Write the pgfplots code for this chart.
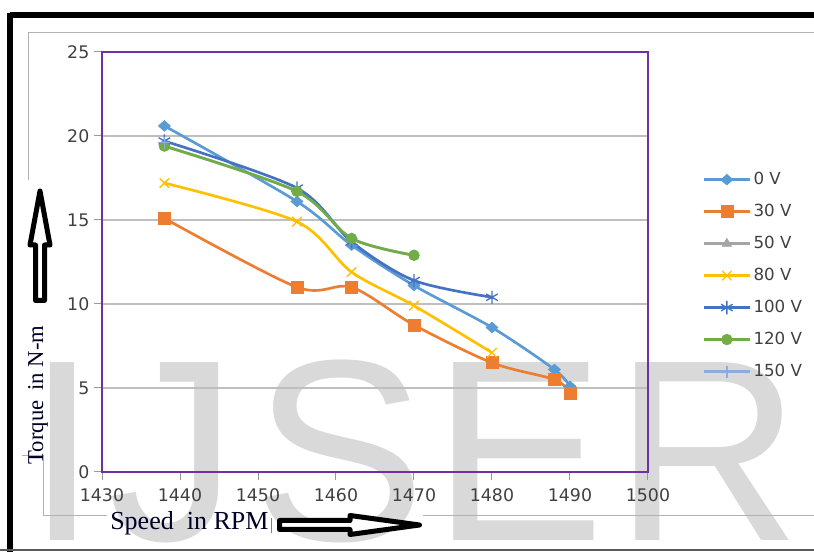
\documentclass[border=0pt]{standalone}
\usepackage{fontspec}
\setmainfont{Liberation Serif}
\newfontfamily\dejavu{DejaVu Sans}
\newfontfamily\arialf{Liberation Sans}
\usepackage{pgfplots}
\pgfplotsset{compat=1.18}
\definecolor{c0}{HTML}{5B9BD5}
\definecolor{c30}{HTML}{ED7D31}
\definecolor{c50}{HTML}{A5A5A5}
\definecolor{c80}{HTML}{FFC000}
\definecolor{c100}{HTML}{4472C4}
\definecolor{c120}{HTML}{70AD47}
\definecolor{c150}{HTML}{8FAADC}
\definecolor{purp}{HTML}{7030A0}
\definecolor{gridc}{HTML}{BFBFBF}
\definecolor{tickc}{HTML}{404040}
\definecolor{wm}{HTML}{D9D9D9}
\begin{document}
\begin{tikzpicture}
\useasboundingbox (0,0) rectangle (610.5pt,414pt);
\begin{scope}[x=0.75pt,y=-0.75pt,shift={(0pt,414pt)}]
% watermark
\foreach \ch/\xx in {I/26,J/108,S/253,E/432,R/614}
  \node[anchor=base west, inner sep=0pt, text=wm, font=\arialf\fontsize{194}{194}\selectfont] at (\xx,541) {\ch};
% frame
\draw[black, line width=4.5pt] (10,15) -- (820,15);
\draw[black, line width=4.5pt] (10,13) -- (10,560);
\draw[gray!60, line width=0.75pt] (28,180) -- (28,33) -- (820,33);
\draw[gray!60, line width=0.75pt] (22,456) -- (43,456) -- (43,516) -- (107,516);
\draw[gray!60, line width=0.75pt] (423,516) -- (820,516);
\draw[gray!70!black, line width=1.5pt] (0,550) -- (820,550);
% axis titles and arrows
\node[rotate=90, anchor=base, inner sep=0pt, font=\fontsize{17}{17}\selectfont, text=black!85!blue] at (43,395) {Torque\hspace{0.45em}in N-m};
\node[anchor=base west, inner sep=0pt, font=\fontsize{19.5}{19.5}\selectfont, text=black!85!blue] at (110,530) {Speed\hspace{0.5em}in RPM};
\draw[gray, line width=0.5pt] (271,518) -- (271,533);
\draw[black, fill=white, line width=3.75pt, line join=round]
  (35.5,300.5) -- (35.5,245) -- (30,245) -- (40,191) -- (50,245) -- (44.5,245) -- (44.5,300.5) -- cycle;
\draw[black, fill=white, line width=3.75pt, line join=round]
  (279.5,520.5) -- (350,520.5) -- (350,515.5) -- (419.5,525) -- (350,534.5) -- (350,529.5) -- (279.5,529.5) -- cycle;
\end{scope}
\begin{axis}[
  at={(76.5pt,60pt)}, anchor=south west,
  scale only axis, width=409.5pt, height=315pt,
  xmin=1430, xmax=1500, ymin=0, ymax=25,
  xtick={1430,1440,...,1500}, ytick={0,5,...,25},
  ymajorgrids, major grid style={gridc, line width=1.5pt},
  axis line style={purp, line width=1.5pt},
  tick align=outside, xtick pos=bottom, ytick pos=left,
  major tick length=6pt,
  tick style={gray!80, line width=0.75pt},
  ticklabel style={font=\dejavu\fontsize{13}{13}\selectfont, text=tickc},
  xticklabel style={yshift=-3pt},
  /pgf/number format/assume math mode=true,
  /pgf/number format/1000 sep={},
  legend style={at={(1.1,0.72)}, anchor=north west, draw=none, fill=none,
    font=\dejavu\fontsize{12.5}{12.5}\selectfont, text=tickc,
    row sep=9.2pt, inner sep=0pt},
  legend cell align=left,
  legend image code/.code={\draw[mark repeat=2,mark phase=2,#1] plot coordinates {(0pt,0pt) (17pt,0pt) (34pt,0pt)};},
]
\addplot[c0, line width=2pt, smooth, mark=diamond*, mark size=4pt, mark options={solid, fill=c0, line width=0.5pt, xscale=1.5}]
  coordinates {(1438,20.6)(1455,16.1)(1462,13.5)(1470,11.1)(1480,8.6)(1488,6.1)(1490,5.1)};
\addlegendentry{0 V}
\addplot[c30, line width=2pt, smooth, mark=square*, mark size=4.5pt, mark options={solid, fill=c30, line width=0.5pt}]
  coordinates {(1438,15.1)(1455,11.0)(1462,11.0)(1470,8.75)(1480,6.5)(1488,5.5)(1490,4.7)};
\addlegendentry{30 V}
\addplot[c50, line width=2pt, smooth, mark=triangle*, mark size=4pt, mark options={solid, fill=c50, line width=0.5pt}]
  coordinates {(1438,19.4)(1455,16.7)(1462,13.9)(1470,12.9)};
\addlegendentry{50 V}
\addplot[c80, line width=2pt, smooth, mark=x, mark size=5pt, mark options={solid, line width=1pt}]
  coordinates {(1438,17.2)(1455,14.9)(1462,11.9)(1470,9.9)(1480,7.1)};
\addlegendentry{80 V}
\addplot[c100, line width=2pt, smooth, mark=asterisk, mark size=5pt, mark options={solid, line width=1pt}]
  coordinates {(1438,19.7)(1455,16.9)(1462,13.7)(1470,11.4)(1480,10.4)};
\addlegendentry{100 V}
\addplot[c120, line width=2pt, smooth, mark=*, mark size=4pt, mark options={solid, fill=c120, line width=0.5pt}]
  coordinates {(1438,19.4)(1455,16.7)(1462,13.9)(1470,12.9)};
\addlegendentry{120 V}
\addplot[c150, line width=2pt, smooth, mark=+, mark size=4.5pt, mark options={solid, line width=1pt}]
  coordinates {(1438,19.6)};
\addlegendentry{150 V}
\end{axis}
\end{tikzpicture}
\end{document}
